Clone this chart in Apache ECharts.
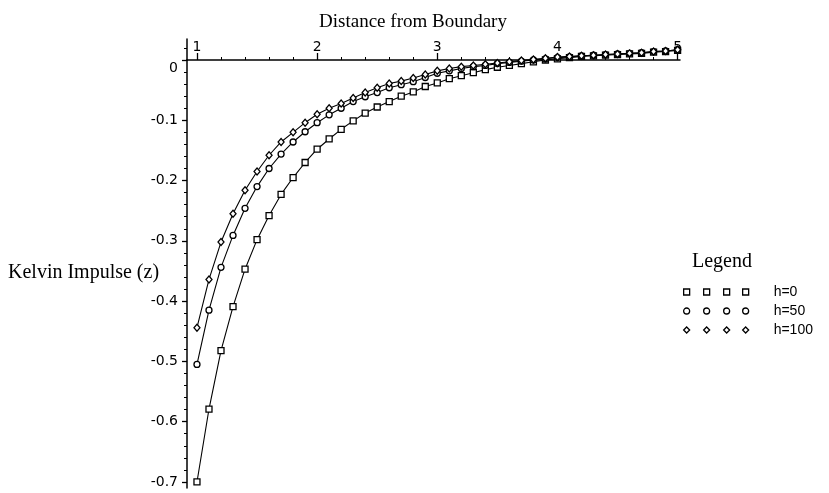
<!DOCTYPE html>
<html>
<head>
<meta charset="utf-8">
<script src="https://cdn.jsdelivr.net/npm/echarts@6/dist/echarts.min.js"></script>
<style>
  html, body { margin: 0; padding: 0; background: #fff; }
  #chart { width: 829px; height: 493px; }
</style>
</head>
<body>
<div id="chart"></div>
<script>
// distance from boundary, 1.0 .. 5.0
const distance = [1.0, 1.1, 1.2, 1.3, 1.4, 1.5, 1.6, 1.7, 1.8, 1.9,
  2.0, 2.1, 2.2, 2.3, 2.4, 2.5, 2.6, 2.7, 2.8, 2.9,
  3.0, 3.1, 3.2, 3.3, 3.4, 3.5, 3.6, 3.7, 3.8, 3.9,
  4.0, 4.1, 4.2, 4.3, 4.4, 4.5, 4.6, 4.7, 4.8, 4.9, 5.0];

const h0 = [-0.700, -0.579, -0.482, -0.409, -0.347, -0.298, -0.258, -0.223, -0.195, -0.170,
  -0.148, -0.131, -0.115, -0.101, -0.088, -0.078, -0.069, -0.060, -0.053, -0.044,
  -0.038, -0.031, -0.026, -0.021, -0.016, -0.012, -0.009, -0.006, -0.003, 0.000,
  0.002, 0.004, 0.006, 0.007, 0.008, 0.009, 0.010, 0.011, 0.013, 0.014, 0.016];

const h50 = [-0.505, -0.415, -0.344, -0.291, -0.246, -0.210, -0.180, -0.156, -0.136, -0.119,
  -0.104, -0.091, -0.080, -0.069, -0.061, -0.054, -0.046, -0.041, -0.036, -0.029,
  -0.022, -0.018, -0.014, -0.011, -0.009, -0.006, -0.004, -0.002, 0.000, 0.002,
  0.004, 0.005, 0.007, 0.008, 0.009, 0.010, 0.011, 0.012, 0.014, 0.015, 0.017];

const h100 = [-0.444, -0.364, -0.302, -0.255, -0.216, -0.185, -0.158, -0.136, -0.120, -0.104,
  -0.090, -0.080, -0.072, -0.063, -0.054, -0.046, -0.039, -0.035, -0.030, -0.024,
  -0.018, -0.014, -0.011, -0.009, -0.007, -0.005, -0.003, -0.001, 0.001, 0.003,
  0.005, 0.006, 0.007, 0.008, 0.009, 0.010, 0.011, 0.012, 0.014, 0.015, 0.017];

const xTicks = [1, 2, 3, 4, 5];
const xMinorTicks = [1.2, 1.4, 1.6, 1.8, 2.2, 2.4, 2.6, 2.8, 3.2, 3.4, 3.6, 3.8, 4.2, 4.4, 4.6, 4.8];
const yTicks = [0, -0.1, -0.2, -0.3, -0.4, -0.5, -0.6, -0.7];
const yMinorTicks = [-0.02, -0.04, -0.06, -0.08, -0.12, -0.14, -0.16, -0.18,
  -0.22, -0.24, -0.26, -0.28, -0.32, -0.34, -0.36, -0.38, -0.42, -0.44, -0.46, -0.48,
  -0.52, -0.54, -0.56, -0.58, -0.62, -0.64, -0.66, -0.68];
const yUpperTicks = [0.02];

const seriesNames = ['h=0', 'h=50', 'h=100'];

const sansFont = '"DejaVu Sans", sans-serif';
const legendFont = '"Liberation Sans", Arial, sans-serif';
const serifFont = '"Liberation Serif", "Times New Roman", serif';

// legend icons: four markers in a row, 65x6
const iconX = [0, 20, 40, 59];
const iconSquares = 'path://' + iconX.map(x => `M${x} 0h6v6h-6z`).join('');
const iconCircles = 'path://' + iconX.map(x => `M${x} 3a3 3 0 1 0 6 0a3 3 0 1 0 -6 0z`).join('');
const iconDiamonds = 'path://' + iconX.map(x => `M${x + 3} 0L${x + 6} 3L${x + 3} 6L${x} 3z`).join('');

function pairs(ys) {
  return distance.map((x, i) => [x, ys[i]]);
}

function makeSeries(name, ys, symbol, size) {
  return {
    name: name,
    type: 'line',
    xAxisIndex: 0,
    yAxisIndex: 0,
    data: pairs(ys),
    symbol: symbol,
    symbolSize: size,
    showAllSymbol: true,
    clip: false,
    lineStyle: { color: '#000', width: 1.1 },
    itemStyle: { color: '#fff', borderColor: '#000', borderWidth: 1.3 },
    emphasis: { disabled: true }
  };
}

const xMin = 0.917, xMax = 5.02;
const yMin = -0.71, yTop = 0.035;

const chart = echarts.init(document.getElementById('chart'));
chart.setOption({
  animation: false,
  backgroundColor: '#fff',
  grid: [
    { left: 187, right: 149, top: 60, bottom: 5, containLabel: false, outerBoundsMode: 'none' },
    { left: 187, right: 149, top: 39, height: 21, containLabel: false, outerBoundsMode: 'none' }
  ],
  xAxis: [
    {
      gridIndex: 0, type: 'value', min: xMin, max: xMax, position: 'top',
      axisLine: { onZero: false, lineStyle: { color: '#000', width: 1.5 } },
      axisTick: { customValues: xTicks, length: 7, lineStyle: { color: '#000', width: 1.3 } },
      axisLabel: { customValues: xTicks, margin: 6, color: '#000', fontSize: 14, fontFamily: sansFont },
      splitLine: { show: false }
    },
    {
      gridIndex: 0, type: 'value', min: xMin, max: xMax, position: 'top',
      axisLine: { onZero: false, show: false },
      axisTick: { customValues: xMinorTicks, length: 3, lineStyle: { color: '#000', width: 1 } },
      axisLabel: { show: false },
      splitLine: { show: false }
    },
    {
      gridIndex: 1, type: 'value', min: xMin, max: xMax, show: false
    }
  ],
  yAxis: [
    {
      gridIndex: 0, type: 'value', min: yMin, max: 0, position: 'left',
      axisLine: { onZero: false, lineStyle: { color: '#000', width: 1.5 } },
      axisTick: { customValues: yTicks, length: 5, lineStyle: { color: '#000', width: 1.3 } },
      axisLabel: {
        customValues: yTicks, margin: 9, color: '#000', fontSize: 14, fontFamily: sansFont,
        formatter: v => (v === 0 ? '{z|0}' : String(v)),
        rich: { z: { fontSize: 14, fontFamily: sansFont, color: '#000', padding: [17, 0, 0, 0] } }
      },
      splitLine: { show: false }
    },
    {
      gridIndex: 0, type: 'value', min: yMin, max: 0, position: 'left',
      axisLine: { onZero: false, show: false },
      axisTick: { customValues: yMinorTicks, length: 3, lineStyle: { color: '#000', width: 1 } },
      axisLabel: { show: false },
      splitLine: { show: false }
    },
    {
      gridIndex: 1, type: 'value', min: 0, max: yTop, position: 'left',
      axisLine: { onZero: false, lineStyle: { color: '#000', width: 1.5 } },
      axisTick: { customValues: yUpperTicks, length: 3, lineStyle: { color: '#000', width: 1 } },
      axisLabel: { show: false },
      splitLine: { show: false }
    }
  ],
  legend: {
    orient: 'vertical',
    left: 683,
    top: 285,
    padding: 0,
    itemWidth: 65,
    itemHeight: 6,
    itemGap: 5,
    selectedMode: false,
    textStyle: { color: '#000', fontSize: 14, fontFamily: legendFont, padding: [0, 0, 0, 20] },
    itemStyle: { color: '#fff', borderColor: '#000', borderWidth: 1.3 },
    data: [
      { name: seriesNames[0], icon: iconSquares },
      { name: seriesNames[1], icon: iconCircles },
      { name: seriesNames[2], icon: iconDiamonds }
    ]
  },
  graphic: [
    {
      type: 'text', x: 413, y: 22,
      style: { text: 'Distance from Boundary', fill: '#000', font: '19px ' + serifFont, textAlign: 'center', textVerticalAlign: 'middle' }
    },
    {
      type: 'text', x: 8, y: 273,
      style: { text: 'Kelvin Impulse (z)', fill: '#000', font: '20px ' + serifFont, textAlign: 'left', textVerticalAlign: 'middle' }
    },
    {
      type: 'text', x: 722, y: 262,
      style: { text: 'Legend', fill: '#000', font: '20px ' + serifFont, textAlign: 'center', textVerticalAlign: 'middle' }
    }
  ],
  series: [
    makeSeries(seriesNames[0], h0, 'rect', 6),
    makeSeries(seriesNames[1], h50, 'circle', 6),
    makeSeries(seriesNames[2], h100, 'diamond', [6, 7])
  ]
});
</script>
</body>
</html>
